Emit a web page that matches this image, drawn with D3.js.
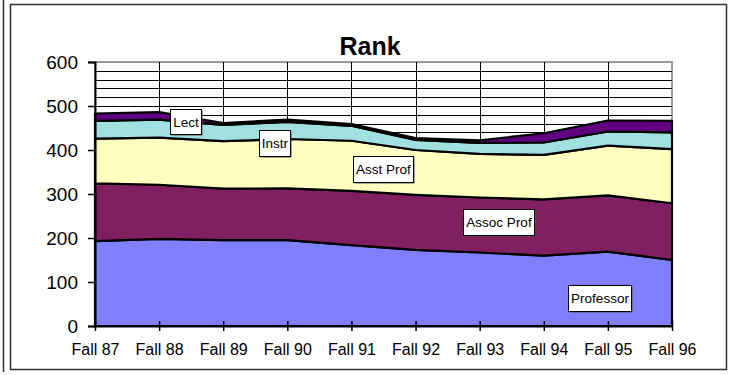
<!DOCTYPE html>
<html>
<head>
<meta charset="utf-8">
<script src="https://cdn.jsdelivr.net/npm/d3@7/dist/d3.min.js"></script>
<style>
  html, body { margin: 0; padding: 0; background: #fff; }
  svg { display: block; font-family: Arial, "Liberation Sans", sans-serif; }
</style>
</head>
<body>
<svg id="chart" width="729" height="375"></svg>
<script>
// Faculty headcount by rank, fall terms 1987-1996
const categories = ["Fall 87", "Fall 88", "Fall 89", "Fall 90", "Fall 91",
                    "Fall 92", "Fall 93", "Fall 94", "Fall 95", "Fall 96"];
const professor = [193, 198, 195, 195, 184, 173, 167, 160, 169, 150];
const assocProf = [131, 123, 117, 118, 123, 125, 125, 128, 128, 129];
const asstProf  = [102, 107, 108, 112, 114, 102,  99, 101, 113, 123];
const instr     = [ 40,  41,  37,  39,  34,  23,  25,  28,  32,  38];
const lect      = [ 17,  17,   4,   5,   4,   4,   6,  21,  25,  26];
const seriesNames = ["Professor", "Assoc Prof", "Asst Prof", "Instr", "Lect"];
const yTicks = [0, 100, 200, 300, 400, 500, 600];

const seriesValues = [professor, assocProf, asstProf, instr, lect];
const colors = ["#8080FF", "#802060", "#FFFFC0", "#A0E0E0", "#600080"];

// label box placement (pixel layout)
const labelBoxes = [
  { x: 568, y: 285, w: 63, h: 26 },
  { x: 463, y: 209, w: 71, h: 26 },
  { x: 353, y: 156, w: 60, h: 26 },
  { x: 259, y: 130, w: 31, h: 26 },
  { x: 170, y: 109, w: 31, h: 25 }
];

const svg = d3.select("#chart");

// outer frames
svg.append("line").attr("x1", 3.5).attr("x2", 3.5).attr("y1", 0).attr("y2", 372)
  .attr("stroke", "#333").attr("stroke-width", 1.5);
svg.append("rect").attr("x", 10.5).attr("y", 4.5).attr("width", 716).attr("height", 365)
  .attr("fill", "#fff").attr("stroke", "#333").attr("stroke-width", 1.5);

const plotLeft = 95, plotRight = 672, plotTop = 62, plotBottom = 326;
const x = d3.scalePoint().domain(categories).range([plotLeft, plotRight]);
const y = d3.scaleLinear().domain([0, 600]).range([plotBottom, plotTop]);

// plot area border
svg.append("rect").attr("x", plotLeft).attr("y", plotTop)
  .attr("width", plotRight - plotLeft).attr("height", plotBottom - plotTop)
  .attr("fill", "#fff").attr("stroke", "#999").attr("stroke-width", 2);

// gridlines: every 20 units horizontally, each category vertically
const grid = svg.append("g");
grid.selectAll("line.h").data(d3.range(20, 600, 20)).join("line")
  .attr("x1", plotLeft).attr("x2", plotRight)
  .attr("y1", d => Math.round(y(d)) + 0.5).attr("y2", d => Math.round(y(d)) + 0.5)
  .attr("stroke", "#000").attr("stroke-width", 1);
grid.selectAll("line.v").data(categories.slice(1, -1)).join("line")
  .attr("x1", d => Math.round(x(d)) + 0.5).attr("x2", d => Math.round(x(d)) + 0.5)
  .attr("y1", plotTop).attr("y2", plotBottom)
  .attr("stroke", "#000").attr("stroke-width", 1);

// stacked areas
const rows = categories.map((c, i) => {
  const r = { cat: c };
  seriesNames.forEach((s, k) => r[s] = seriesValues[k][i]);
  return r;
});
const stacked = d3.stack().keys(seriesNames)(rows);
const area = d3.area()
  .x(d => x(d.data.cat))
  .y0(d => y(d[0]))
  .y1(d => y(d[1]));

svg.append("g").selectAll("path").data(stacked).join("path")
  .attr("d", area)
  .attr("fill", (d, i) => colors[i])
  .attr("stroke", "#000")
  .attr("stroke-width", 2.2)
  .attr("stroke-linejoin", "round");

// axes
const yAxis = d3.axisLeft(y).tickValues(yTicks).tickSize(7).tickPadding(10);
const gy = svg.append("g").attr("transform", `translate(${plotLeft},0)`).call(yAxis);
gy.select(".domain").attr("stroke", "#000").attr("stroke-width", 2);
gy.selectAll(".tick line").attr("stroke", "#000").attr("stroke-width", 1.5);
gy.selectAll("text").attr("font-size", 19).attr("fill", "#000")
  .attr("font-family", "Arial, 'Liberation Sans', sans-serif");

const xAxis = d3.axisBottom(x).tickSize(0);
const gx = svg.append("g").attr("transform", `translate(0,${plotBottom})`).call(xAxis);
gx.select(".domain").attr("stroke", "#000").attr("stroke-width", 2.2);
gx.selectAll(".tick line").attr("y1", -5).attr("y2", 5)
  .attr("stroke", "#000").attr("stroke-width", 1.5);
gx.selectAll("text").attr("y", 18).attr("font-size", 16).attr("fill", "#000")
  .attr("font-family", "Arial, 'Liberation Sans', sans-serif");

// series labels
const lab = svg.append("g").selectAll("g").data(seriesNames).join("g");
lab.append("rect")
  .attr("x", (d, i) => labelBoxes[i].x + 1.5).attr("y", (d, i) => labelBoxes[i].y + 1.5)
  .attr("width", (d, i) => labelBoxes[i].w).attr("height", (d, i) => labelBoxes[i].h)
  .attr("fill", "#555");
lab.append("rect")
  .attr("x", (d, i) => labelBoxes[i].x + 0.5).attr("y", (d, i) => labelBoxes[i].y + 0.5)
  .attr("width", (d, i) => labelBoxes[i].w).attr("height", (d, i) => labelBoxes[i].h)
  .attr("fill", "#fff").attr("stroke", "#000").attr("stroke-width", 1);
lab.append("text")
  .attr("x", (d, i) => labelBoxes[i].x + labelBoxes[i].w / 2 + 0.5)
  .attr("y", (d, i) => labelBoxes[i].y + labelBoxes[i].h / 2 + 5)
  .attr("text-anchor", "middle").attr("font-size", 13.5).attr("fill", "#000")
  .text(d => d);

// title
svg.append("text").attr("x", 370).attr("y", 55).attr("text-anchor", "middle")
  .attr("font-size", 25).attr("font-weight", "bold").attr("fill", "#000")
  .text("Rank");
</script>
</body>
</html>
